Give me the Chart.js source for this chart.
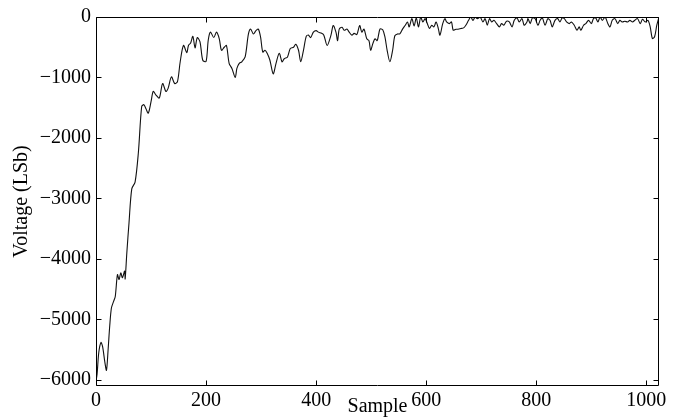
<!DOCTYPE html>
<html>
<head>
<meta charset="utf-8">
<script src="https://cdn.jsdelivr.net/npm/chart.js@4/dist/chart.umd.min.js"></script>
<style>
html,body{margin:0;padding:0;background:#fff;}
#wrap{width:684px;height:418px;position:relative;}
</style>
</head>
<body>
<div id="wrap"><canvas id="c" width="684" height="418"></canvas></div>
<script>
const samples = [0,2,5,9,12,16,19,22,25,28,32,35,39,42,45,48,52,53,56,60,65,71,77,83,87,91,95,100,104,109,115,121,127,131,137,143,148,153,159,165,168,172,176,180,184,189,194,200,204,208,214,219,224,228,233,237,242,247,253,256,260,265,271,277,281,286,291,295,299,303,307,311,316,322,327,333,338,342,348,353,359,363,368,372,377,382,386,390,395,400,404,410,414,420,427,431,436,439,442,447,451,456,460,465,469,474,479,483,487,492,496,499,503,507,511,516,521,525,529,534,539,543,548,552,557,562,566,569,574,578,582,586,590,594,598,602,606,610,614,618,622,625,630,634,637,642,646,649,654,658,663,668,672,677,681,685,689,693,698,703,707,711,715,719,723,728,733,737,741,746,751,756,760,765,769,774,778,783,785,789,793,798,803,807,811,816,821,825,829,834,839,843,847,851,855,860,864,869,874,878,881,886,890,895,900,904,908,912,916,920,925,930,934,938,943,948,952,956,961,966,970,975,979,984,989,993,998,1003,1007,1011,1015,1019,1023];
const voltage = [-6020,-5900,-5550,-5380,-5450,-5700,-5840,-5500,-5100,-4810,-4700,-4620,-4260,-4340,-4230,-4310,-4200,-4330,-3900,-3400,-2840,-2730,-2240,-1480,-1450,-1520,-1590,-1400,-1230,-1290,-1340,-1100,-1230,-1180,-990,-1100,-1070,-740,-470,-590,-470,-430,-320,-510,-340,-410,-715,-735,-380,-250,-340,-250,-360,-550,-500,-470,-770,-850,-1000,-850,-770,-740,-660,-280,-200,-280,-220,-200,-330,-580,-550,-600,-715,-940,-770,-600,-740,-690,-660,-520,-500,-450,-550,-740,-550,-320,-300,-340,-250,-225,-250,-270,-300,-470,-300,-140,-250,-390,-200,-170,-220,-200,-250,-300,-270,-290,-140,-250,-200,-360,-390,-550,-440,-360,-390,-200,-210,-330,-550,-740,-550,-310,-280,-280,-200,-136,-82,-164,-27,-147,-16,-164,0,-82,-27,-109,-191,-136,-164,-82,-191,-300,-109,-27,-82,-109,-82,-218,-202,-202,-191,-180,-136,-55,0,-55,0,-27,0,-82,-27,-136,-27,-82,-55,-109,-164,-109,-136,-71,-82,-164,-55,-16,-82,-27,-136,-82,-27,-109,-16,-27,-136,-55,-16,-136,-27,-55,-164,-55,-27,-82,-16,-27,-82,-109,-82,-136,-218,-164,-218,-136,-109,-55,-109,-27,-16,-82,0,-55,0,-109,-164,-55,-27,-109,-55,-82,-71,-82,-55,-82,-55,-27,-109,-38,-82,-55,-164,-355,-327,-136,0];
const xTicks = [0,200,400,600,800,1000];
const yTicks = [-6000,-5000,-4000,-3000,-2000,-1000,0];
const xTitle = 'Sample';
const yTitle = 'Voltage (LSb)';

const FONT = {family: "'Liberation Serif', 'Times New Roman', serif", size: 20};

const framePlugin = {
  id: 'frame',
  afterDraw(chart) {
    const {ctx, chartArea: a, scales: {x, y}} = chart;
    const L = Math.round(a.left) + 0.5, R = Math.round(a.right) - 0.5;
    const T = Math.round(a.top) + 0.5, B = Math.round(a.bottom) - 0.5;
    ctx.save();
    ctx.strokeStyle = '#000';
    ctx.lineWidth = 1;
    ctx.beginPath();
    ctx.rect(L, T, R - L, B - T);
    const tl = 5;
    x.ticks.forEach(t => {
      const px = Math.round(x.getPixelForValue(t.value)) + 0.5;
      ctx.moveTo(px, B); ctx.lineTo(px, B - tl);
      ctx.moveTo(px, T); ctx.lineTo(px, T + tl);
    });
    y.ticks.forEach(t => {
      const py = Math.round(y.getPixelForValue(t.value)) + 0.5;
      ctx.moveTo(L, py); ctx.lineTo(L + tl, py);
      ctx.moveTo(R, py); ctx.lineTo(R - tl, py);
    });
    ctx.stroke();
    ctx.restore();
  }
};

const minus = v => String(v).replace('-', '\u2212');

new Chart(document.getElementById('c'), {
  type: 'line',
  data: {
    datasets: [{
      data: samples.map((s, i) => ({x: s, y: voltage[i]})),
      borderColor: '#111',
      borderWidth: 1.1,
      pointRadius: 0,
      tension: 0.3,
      fill: false
    }]
  },
  options: {
    responsive: false,
    animation: false,
    events: [],
    layout: {padding: {top: 13, right: 25, left: 0, bottom: 0}},
    plugins: {legend: {display: false}, tooltip: {enabled: false}},
    scales: {
      x: {
        type: 'linear', min: 0, max: 1023,
        grid: {display: false, drawTicks: false},
        border: {display: false},
        afterBuildTicks: s => { s.ticks = xTicks.map(v => ({value: v})); },
        afterFit: s => { s.height = 32; },
        ticks: {color: '#000', font: FONT, padding: 3, maxRotation: 0, callback: v => minus(v)},
        title: {display: true, text: xTitle, color: '#000', font: FONT, padding: {top: 0, bottom: -1}}
      },
      y: {
        type: 'linear', min: -6100, max: 0,
        grid: {display: false, drawTicks: false},
        border: {display: false},
        afterBuildTicks: s => { s.ticks = yTicks.map(v => ({value: v})); },
        afterFit: s => { s.width = 96; },
        ticks: {color: '#000', font: FONT, padding: 5, callback: v => minus(v)},
        title: {display: true, text: yTitle, color: '#000', font: FONT, padding: {top: 10, bottom: 0}}
      }
    }
  },
  plugins: [framePlugin]
});
</script>
</body>
</html>
